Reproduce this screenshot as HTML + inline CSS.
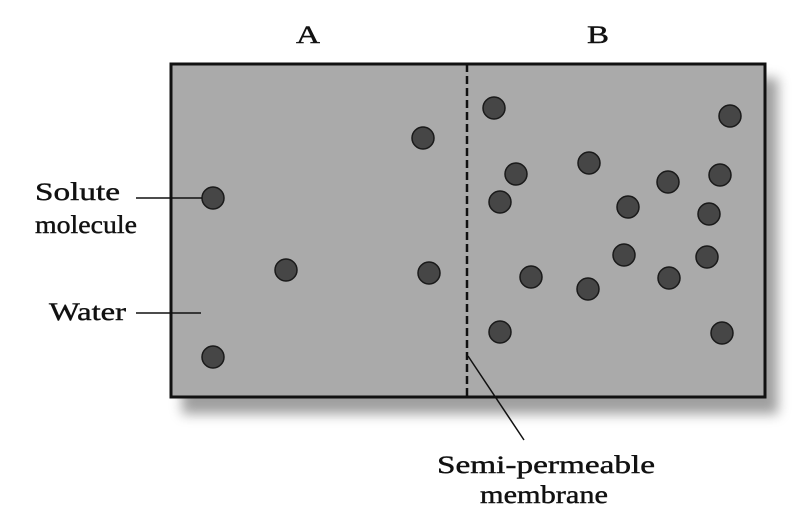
<!DOCTYPE html>
<html><head><style>
html,body{margin:0;padding:0;background:#fff;}
svg{display:block;}
text{font-family:"Liberation Serif",serif;font-size:25px;fill:#111;stroke:#111;stroke-width:0.4;}
</style></head><body>
<svg width="800" height="518" viewBox="0 0 800 518">
<defs>
<filter id="sh" x="-10%" y="-10%" width="130%" height="140%">
<feGaussianBlur stdDeviation="6"/>
</filter>
</defs>
<rect x="182" y="78" width="596" height="336" fill="#777" filter="url(#sh)" opacity="0.7"/>
<rect x="171" y="64" width="594" height="333" fill="#aaa" stroke="#111" stroke-width="3"/>
<line x1="467" y1="64" x2="467" y2="397" stroke="#111" stroke-width="2.5" stroke-dasharray="8,4"/>
<g fill="#464646" stroke="#1a1a1a" stroke-width="1.5">
<circle cx="213" cy="198" r="11"/><circle cx="423" cy="138" r="11"/><circle cx="286" cy="270" r="11"/><circle cx="429" cy="273" r="11"/><circle cx="213" cy="357" r="11"/>
<circle cx="494" cy="108" r="11"/><circle cx="730" cy="116" r="11"/><circle cx="516" cy="174" r="11"/><circle cx="589" cy="163" r="11"/><circle cx="500" cy="202" r="11"/><circle cx="628" cy="207" r="11"/><circle cx="668" cy="182" r="11"/><circle cx="720" cy="175" r="11"/><circle cx="709" cy="214" r="11"/><circle cx="531" cy="277" r="11"/><circle cx="588" cy="289" r="11"/><circle cx="624" cy="255" r="11"/><circle cx="669" cy="278" r="11"/><circle cx="707" cy="257" r="11"/><circle cx="500" cy="332" r="11"/><circle cx="722" cy="333" r="11"/>
</g>
<g stroke="#111" stroke-width="1.5">
<line x1="136" y1="198" x2="202" y2="198"/>
<line x1="136" y1="313" x2="201" y2="313"/>
<line x1="468" y1="356" x2="524" y2="440"/>
</g>
<text x="296" y="43" textLength="24" lengthAdjust="spacingAndGlyphs">A</text>
<text x="587" y="43" textLength="22" lengthAdjust="spacingAndGlyphs">B</text>
<text x="35" y="200" textLength="85" lengthAdjust="spacingAndGlyphs">Solute</text>
<text x="35" y="233" textLength="102" lengthAdjust="spacingAndGlyphs">molecule</text>
<text x="49" y="320" textLength="77" lengthAdjust="spacingAndGlyphs">Water</text>
<text x="437" y="473" textLength="218" lengthAdjust="spacingAndGlyphs">Semi-permeable</text>
<text x="480" y="503" textLength="128" lengthAdjust="spacingAndGlyphs">membrane</text>
</svg>
</body></html>
